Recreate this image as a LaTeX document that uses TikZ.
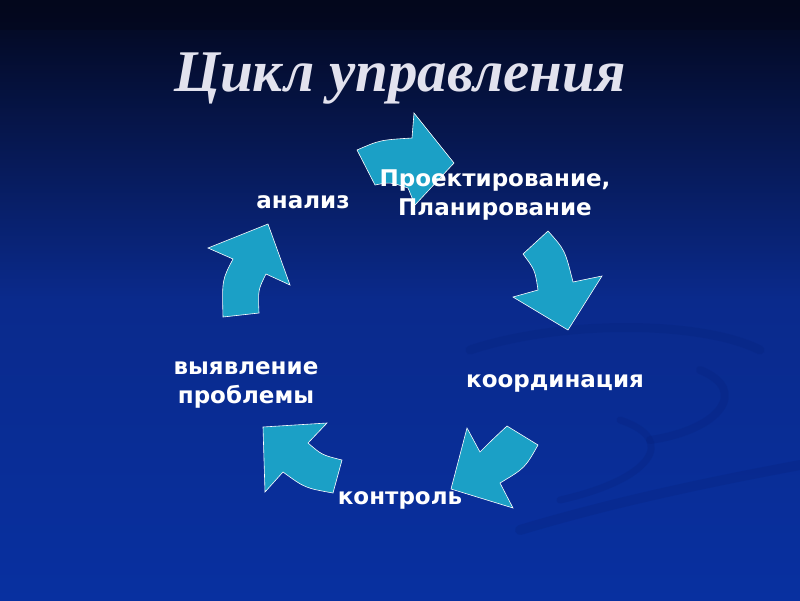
\documentclass[tikz,border=0pt]{standalone}
\usepackage{fontspec}
\setmainfont{DejaVu Sans}
\newfontfamily\titlefont{Liberation Serif}
\usetikzlibrary{shadings}
\definecolor{bgtop}{HTML}{03071C}
\definecolor{bgmid}{HTML}{0A2A8C}
\definecolor{bgbot}{HTML}{0830A0}
\definecolor{arrowfill}{HTML}{1BA0C6}
\definecolor{titlecol}{HTML}{E2E2EE}
\definecolor{swirl}{HTML}{06207A}
\tikzset{
  cyclearrow/.style={fill=arrowfill, draw=white, line width=0.6pt, line join=miter},
  lbl/.style={font=\bfseries\fontsize{23}{29}\selectfont, text=white, align=center, inner sep=0pt},
}
\begin{document}
\begin{tikzpicture}[x=1pt,y=-1pt]
\useasboundingbox (0,0) rectangle (800,600);
% background
\shade[top color=bgtop, bottom color=bgbot, middle color=bgmid, shading angle=0] (0,0) rectangle (800,600);
\fill[bgtop, opacity=0.5] (0,0) rectangle (800,30);
% faint swirls
\begin{scope}[swirl, opacity=0.25, line cap=round]
\draw[line width=9pt] (470,350) .. controls (560,320) and (700,320) .. (760,350);
\draw[line width=7pt] (560,500) .. controls (650,480) and (680,440) .. (620,420);
\draw[line width=8pt] (650,440) .. controls (720,430) and (750,390) .. (700,370);
\draw[line width=10pt] (520,530) .. controls (620,500) and (720,480) .. (800,465);
\end{scope}
% title
\node[font=\titlefont\bfseries\itshape\fontsize{59}{64}\selectfont, text=titlecol] (title) at (400,79) {Цикл управления};
% arrows
\fill[cyclearrow] (357,150) .. controls (380,140) .. (412,138) -- (414,113) -- (454,163) -- (415,205) -- (408,188) .. controls (390,182) .. (375,185) -- cycle;
\fill[cyclearrow] (523,254) -- (548,231) .. controls (565,250) .. (573,282) -- (602,276) -- (568,330) -- (513,297) -- (538,290) .. controls (535,270) .. (523,254) -- cycle;
\fill[cyclearrow] (467,428) -- (480,452) .. controls (492,440) .. (507,426) -- (538,445) .. controls (525,468) .. (500,483) -- (513,508) -- (451,489) -- cycle;
\fill[cyclearrow] (327,423) -- (263,427) -- (265,492) -- (283,472) .. controls (305,488) .. (333,493) -- (342,460) .. controls (322,455) .. (308,443) -- cycle;
\fill[cyclearrow] (223,317) -- (259,313) .. controls (258,290) .. (266,274) -- (290,285) -- (268,224) -- (208,248) -- (233,259) .. controls (222,280) .. (223,317) -- cycle;
% labels
\node[lbl] (plan) at (495,195) {Проектирование,\\Планирование};
\node[lbl] (coord) at (555,383) {координация};
\node[lbl] (ctrl) at (400,500) {контроль};
\node[lbl] (probl) at (246,385) {выявление\\проблемы};
\node[lbl] (anal) at (303,202) {анализ};
\end{tikzpicture}
\end{document}
